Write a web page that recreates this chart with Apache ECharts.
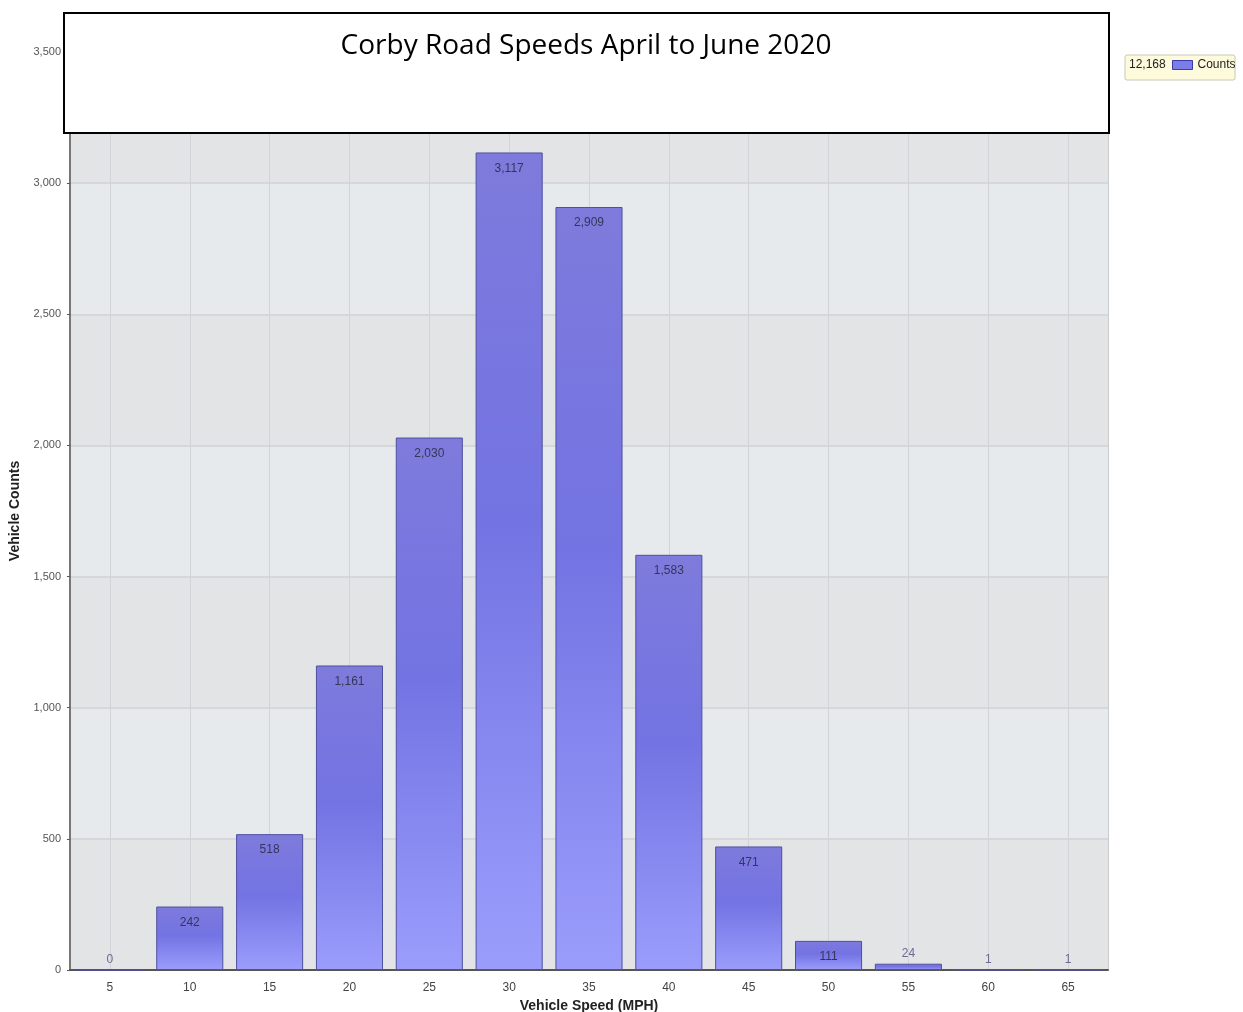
<!DOCTYPE html>
<html>
<head>
<meta charset="utf-8">
<script src="https://cdn.jsdelivr.net/npm/echarts@6/dist/echarts.min.js"></script>
<style>
  html, body { margin: 0; padding: 0; background: #fff; }
  #chart { width: 1243px; height: 1012px; }
</style>
</head>
<body>
<div id="chart"></div>
<script>
const speeds = ['5', '10', '15', '20', '25', '30', '35', '40', '45', '50', '55', '60', '65']
const counts = [0, 242, 518, 1161, 2030, 3117, 2909, 1583, 471, 111, 24, 1, 1]
const totalCount = '12,168'
const chartTitle = 'Corby Road Speeds April to June 2020'

const narrow = '"Liberation Sans Narrow", "Liberation Sans", Arial, sans-serif'
const fmt = (v) => Number(v).toLocaleString('en-US')

const barColor = {
  type: 'linear',
  x: 0, y: 0, x2: 0, y2: 1,
  colorStops: [
    { offset: 0, color: '#7e7bdc' },
    { offset: 0.45, color: '#7373e3' },
    { offset: 1, color: '#9b9dfc' }
  ]
}

// small bars get their label above the bar
const barData = counts.map((v) => {
  if (v >= 100) return v
  return {
    value: v,
    label: { position: 'top', distance: 4, color: '#6a6a92' }
  }
})

const chart = echarts.init(document.getElementById('chart'))
chart.setOption({
  animation: false,
  backgroundColor: '#ffffff',
  title: {
    text: chartTitle,
    left: 581,
    textAlign: 'center',
    top: 27,
    z: 20,
    textStyle: {
      fontFamily: '"Open Sans", "Noto Sans", sans-serif',
      fontWeight: 'normal',
      fontSize: 28,
      color: '#000'
    }
  },
  legend: {
    left: 1167,
    top: 54,
    z: 20,
    itemWidth: 20,
    itemHeight: 9,
    itemGap: 4,
    data: [{
      name: 'Counts',
      icon: 'rect',
      itemStyle: { color: '#7b7de8', borderColor: '#3a3aa8', borderWidth: 1 }
    }],
    textStyle: { fontFamily: narrow, fontSize: 12, color: '#222' }
  },
  graphic: [
    {
      type: 'rect',
      z: 15,
      shape: { x: 64, y: 13, width: 1045, height: 120 },
      style: { fill: '#fff', stroke: '#000', lineWidth: 2 }
    },
    {
      type: 'rect',
      z: 15,
      shape: { x: 1125, y: 55, width: 110, height: 25, r: 2 },
      style: { fill: '#fdfbdc', stroke: '#c8c8b8', lineWidth: 1 }
    },
    {
      type: 'text',
      z: 16,
      left: 1129,
      top: 59,
      style: { text: totalCount, font: '12px ' + narrow, fill: '#222' }
    }
  ],
  grid: {
    left: 70,
    right: 135,
    top: 52,
    bottom: 42,
    outerBoundsMode: 'none',
    show: true,
    borderColor: '#9a9a9a',
    borderWidth: 1
  },
  xAxis: {
    type: 'category',
    data: speeds,
    name: 'Vehicle Speed (MPH)',
    nameLocation: 'middle',
    nameGap: 27,
    nameTextStyle: { fontFamily: narrow, fontSize: 14, fontWeight: 'bold', color: '#222' },
    axisLine: { lineStyle: { color: '#555', width: 2 } },
    axisTick: { alignWithLabel: true, length: 4, lineStyle: { color: '#333' } },
    axisLabel: { fontFamily: narrow, fontSize: 12, color: '#444', margin: 12 },
    splitLine: { show: true, alignWithLabel: true, lineStyle: { color: '#d2d3d6', width: 1 } }
  },
  yAxis: {
    type: 'value',
    min: 0,
    max: 3500,
    interval: 500,
    name: 'Vehicle Counts',
    nameLocation: 'middle',
    nameGap: 46,
    nameTextStyle: { fontFamily: narrow, fontSize: 14, fontWeight: 'bold', color: '#222' },
    axisLine: { show: true, lineStyle: { color: '#777', width: 2 } },
    axisTick: { show: true, length: 3, lineStyle: { color: '#555' } },
    axisLabel: { fontFamily: narrow, fontSize: 11, color: '#555', margin: 9, formatter: fmt },
    splitLine: { show: true, lineStyle: { color: '#d6d7da', width: 2 } },
    splitArea: { show: true, areaStyle: { color: ['#e3e4e6', '#e6eaed'] } }
  },
  series: [{
    name: 'Counts',
    type: 'bar',
    data: barData,
    barWidth: '84%',
    itemStyle: {
      color: barColor,
      borderColor: '#4f4fa0',
      borderWidth: 1
    },
    label: {
      show: true,
      position: 'insideTop',
      distance: 10,
      fontFamily: narrow,
      fontSize: 12,
      color: '#35355a',
      formatter: (p) => fmt(p.value)
    }
  }]
})
</script>
</body>
</html>
